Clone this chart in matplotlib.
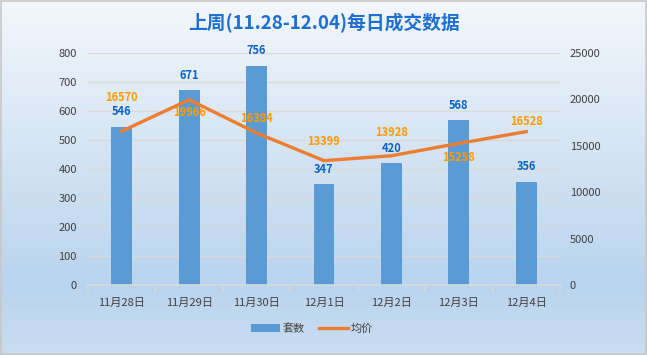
import matplotlib
matplotlib.use("Agg")
import matplotlib.pyplot as plt
import numpy as np
from matplotlib.colors import LinearSegmentedColormap
from matplotlib.patches import Rectangle

plt.rcParams['font.family'] = ['Noto Sans CJK SC', 'DejaVu Sans']

# data
days = ["11月28日", "11月29日", "11月30日", "12月1日", "12月2日", "12月3日", "12月4日"]
units = [546, 671, 756, 347, 420, 568, 356]          # 套数
avg_price = [16570, 19966, 16384, 13399, 13928, 15258, 16528]  # 均价

# vertical offset (px) of each price label from its point
price_label_dy = [34, -13, 14, 19, 23, -14, 10]

BAR = "#5B9BD5"
LINE = "#ED7D31"
GRID = "#D9D9D9"
TXT = "#404040"

W, H = 647, 355
fig = plt.figure(figsize=(W / 100, H / 100), dpi=100)

# background gradient
bg = fig.add_axes([0, 0, 1, 1], zorder=-10)
grad = LinearSegmentedColormap.from_list(
    "bg", [(0.0, "#F3F7FC"), (0.45, "#D3E3F3"), (0.8, "#B9D4EE"), (1.0, "#C9DDF1")])
bg.imshow(np.linspace(0, 1, 256)[:, None], aspect="auto", cmap=grad,
          extent=(0, 1, 0, 1), origin="upper")
bg.add_patch(Rectangle((0.001, 0.002), 0.997, 0.995, fill=False, ec="#C8C8C8", lw=1.2,
                       transform=bg.transAxes))
bg.set_xlim(0, 1); bg.set_ylim(0, 1)
bg.axis("off")

ax = fig.add_axes([88 / W, 1 - 285 / H, (560 - 88) / W, (285 - 53) / H])
ax.patch.set_alpha(0)
x = np.arange(len(days))
bars = ax.bar(x, units, width=0.31, color=BAR, zorder=2, label="套数")
ax.set_xlim(-0.5, len(days) - 0.5)
ax.set_ylim(0, 800)
ax.set_yticks(np.arange(0, 801, 100))
ax.yaxis.grid(True, color=GRID, lw=1.0, zorder=0)
ax.set_axisbelow(True)
for s in ("top", "left", "right"):
    ax.spines[s].set_visible(False)
ax.spines["bottom"].set_color(GRID)
ax.spines["bottom"].set_linewidth(1.2)
ax.set_xticks(x)
ax.set_xticklabels(days)
ax.set_xticks(np.arange(-0.5, len(days)), minor=True)
ax.tick_params(axis="x", which="major", length=0, pad=9, labelsize=8, labelcolor=TXT)
ax.tick_params(axis="x", which="minor", length=4, color=GRID, width=1.2)
ax.tick_params(axis="y", length=0, pad=8, labelsize=8, labelcolor=TXT)

for xi, v in zip(x, units):
    ax.annotate(str(v), (xi, v), xytext=(0, 15 * 0.72), textcoords="offset points",
                ha="center", va="center", fontsize=8, fontweight="bold", color="#0B63C7")

ax2 = ax.twinx()
ln, = ax2.plot(x, avg_price, color=LINE, lw=2.4, zorder=3, label="均价")
ax2.set_ylim(0, 25000)
ax2.set_yticks(np.arange(0, 25001, 5000))
for s in ("top", "left", "right", "bottom"):
    ax2.spines[s].set_visible(False)
ax2.tick_params(axis="y", length=0, pad=7, labelsize=8, labelcolor=TXT)

for xi, v, dy in zip(x, avg_price, price_label_dy):
    ax2.annotate(str(v), (xi, v), xytext=(0, dy * 0.72), textcoords="offset points",
                 ha="center", va="center", fontsize=8, fontweight="bold", color="#FF9900")

fig.text(0.5, 1 - 23 / H, "上周(11.28-12.04)每日成交数据", ha="center", va="center",
         fontsize=13.5, fontweight="bold", color="#1F6FD0")

fig.legend([bars, ln], ["套数", "均价"], loc="center", bbox_to_anchor=(312 / W, 1 - 329 / H),
           ncol=2, frameon=False, fontsize=8, labelcolor=TXT, handlelength=2.6,
           columnspacing=1.2, handletextpad=0.3)

fig.savefig("out.png", dpi=100)
